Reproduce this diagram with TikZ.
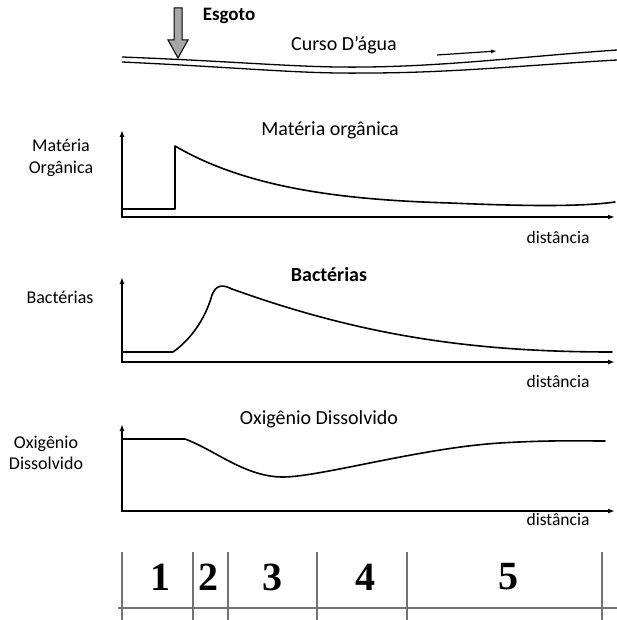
\documentclass[tikz,border=0pt]{standalone}
\usepackage{fontspec}
\setmainfont{Carlito}
\newfontfamily\zonefont{Liberation Serif}
\usetikzlibrary{arrows.meta}

\begin{document}
\begin{tikzpicture}[x=1pt, y=-1pt,
    eixo/.style={line width=1.4pt, line join=miter,
      {Latex[length=7pt,width=5pt]}-{Latex[length=7pt,width=5pt]}},
    curva/.style={line width=1.6pt, line join=round, line cap=round},
    rio/.style={line width=1.3pt},
    rotulo/.style={font=\fontsize{18}{21.5}\selectfont, align=center, inner sep=0pt},
    titulo/.style={font=\fontsize{20}{22}\selectfont, inner sep=0pt, anchor=base},
    dist/.style={font=\fontsize{17.5}{18}\selectfont, inner sep=0pt, anchor=base},
    zona/.style={font=\zonefont\bfseries\fontsize{40}{40}\selectfont, inner sep=0pt},
    grade/.style={draw=black!55, line width=1.2pt}]

  % picture frame, pixel units
  \useasboundingbox (0,0) rectangle (617,620);

  % river and sewage inlet
  \draw[fill=gray!70, line width=1pt, line join=miter]
    (174,8) -- (182,8) -- (182,40) -- (188,40) -- (178,58)
    -- (168,40) -- (174,40) -- cycle;
  \node[font=\fontsize{19}{20}\selectfont\bfseries, inner sep=0pt, anchor=base]
    (esgoto) at (229,21) {Esgoto};
  \node[titulo] (curso) at (344,51) {Curso D’água};
  \draw[rio] (122,57) .. controls (250,62) and (300,68) .. (367,67)
    .. controls (450,66) and (530,56) .. (617,50);
  \draw[rio] (122,62) .. controls (250,68) and (300,74) .. (367,73)
    .. controls (450,73) and (530,65) .. (617,60);
  \coordinate (fluxo-a) at (437,55);
  \coordinate (fluxo-b) at (497,51);
  \draw[line width=1.2pt, -{Latex[length=6pt,width=4pt]}] (fluxo-a) -- (fluxo-b);

  % axes: name / origin y / top y / label y
  \foreach \nome/\y/\t/\d in {mo/217/130/243, bac/362/277/387, od/511/424/525} {
    \coordinate (\nome-o) at (122,\y);
    \coordinate (\nome-y) at (122,\t);
    \coordinate (\nome-x) at (615,\y);
    \draw[eixo] (\nome-y) -- (\nome-o) -- (\nome-x);
    \node[dist] (\nome-dist) at (558,\d) {distância};
  }

  % organic matter
  \node[titulo] (mo-titulo) at (330,136) {Matéria orgânica};
  \node[rotulo] (mo-rotulo) at (61,158) {Matéria\\Orgânica};
  \draw[curva] (122,209) -- (175,209) -- (175,146)
    .. controls (250,190) and (350,200) .. (450,203)
    .. controls (520,206) and (580,207) .. (615,202);

  % bacteria
  \node[titulo, font=\fontsize{20}{22}\selectfont\bfseries] (bac-titulo) at (329,281) {Bactérias};
  \node[rotulo] (bac-rotulo) at (60,297) {Bactérias};
  \draw[curva] (122,352) -- (173,352)
    .. controls (190,340) and (205,320) .. (212,295)
    .. controls (216,285) and (222,284) .. (232,289)
    .. controls (360,335) and (470,352) .. (612,352);

  % dissolved oxygen
  \node[titulo] (od-titulo) at (319,424) {Oxigênio Dissolvido};
  \node[rotulo] (od-rotulo) at (46,453) {Oxigênio\\Dissolvido};
  \draw[curva] (122,439) -- (185,439)
    .. controls (215,450) and (245,477) .. (283,477)
    .. controls (320,477) and (420,448) .. (500,443)
    .. controls (550,440) and (580,441) .. (605,441);

  % zones along the river
  \foreach \x in {122,193,228,317,407,602}
    \draw[grade] (\x,552) -- (\x,620);
  \draw[grade] (118,608) -- (617,608);
  \foreach \n/\x in {1/160, 2/208, 3/272, 4/365, 5/508}
    \node[zona] (zona\n) at (\x,577) {\n};
\end{tikzpicture}
\end{document}
